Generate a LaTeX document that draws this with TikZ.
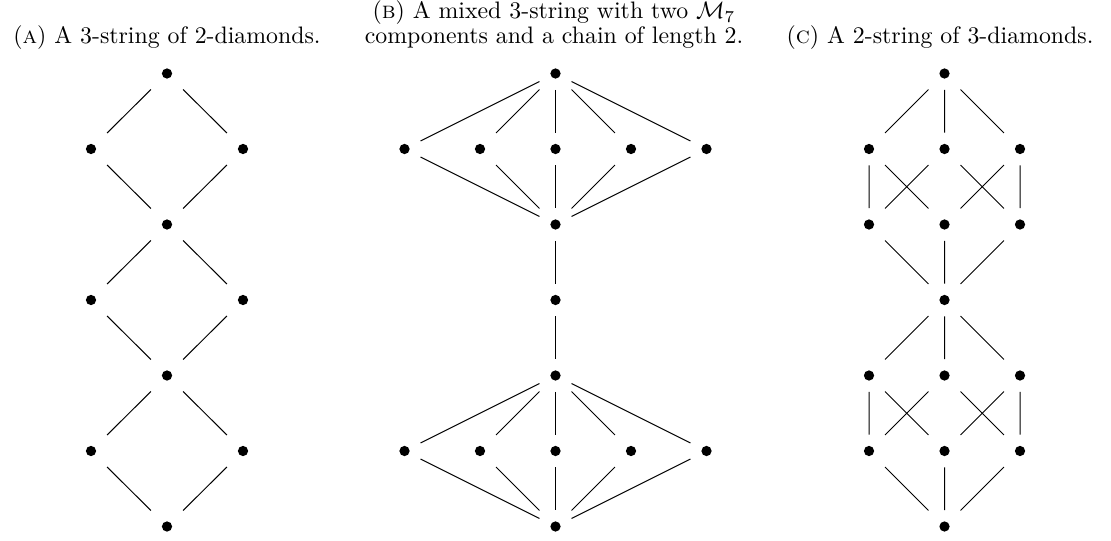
\documentclass[tikz,border=0pt]{standalone}
\begin{document}
\begin{tikzpicture}[x=0.42pt,y=-0.42pt,
  v/.style={rectangle,inner sep=0pt,minimum width=13.1pt,minimum height=13.4pt,
    path picture={\fill[black] (path picture bounding box.center) circle (2.15pt);}},
  e/.style={line width=0.42pt},
  captxt/.style={inner sep=0pt,font=\normalsize}]
\useasboundingbox (0,0) rectangle (1111,540);
% captions
\node[captxt,anchor=base] (capA) at (167,44) {(\textsc{a}) A 3-string of 2-diamonds.};
\node[captxt,anchor=base,align=center,font={\fontsize{10}{10.5}\selectfont}] (capB) at (554,44) {(\textsc{b}) A mixed 3-string with two $\mathcal{M}_7$\\components and a chain of length 2.};
\node[captxt,anchor=base] (capC) at (940,44) {(\textsc{c}) A 2-string of 3-diamonds.};
% (A)
\node[v] (a0) at (167,73.5) {};
\node[v] (a1l) at (91,149) {};
\node[v] (a1r) at (243,149) {};
\node[v] (a2) at (167,224.5) {};
\node[v] (a3l) at (91,300) {};
\node[v] (a3r) at (243,300) {};
\node[v] (a4) at (167,375.5) {};
\node[v] (a5l) at (91,451) {};
\node[v] (a5r) at (243,451) {};
\node[v] (a6) at (167,526.5) {};
\draw[e] (a0)--(a1l) (a0)--(a1r) (a1l)--(a2) (a1r)--(a2)
  (a2)--(a3l) (a2)--(a3r) (a3l)--(a4) (a3r)--(a4)
  (a4)--(a5l) (a4)--(a5r) (a5l)--(a6) (a5r)--(a6);
% (B)
\node[v] (b0) at (555.5,73.5) {};
\foreach \i/\x in {1/404.5,2/480,3/555.5,4/631,5/706.5}{
  \node[v] (bu\i) at (\x,149) {};
  \node[v] (bl\i) at (\x,451) {};
}
\node[v] (b1) at (555.5,224.5) {};
\node[v] (b2) at (555.5,300) {};
\node[v] (b3) at (555.5,375.5) {};
\node[v] (b4) at (555.5,526.5) {};
\foreach \i in {1,...,5}{
  \draw[e] (b0)--(bu\i) (bu\i)--(b1) (b3)--(bl\i) (bl\i)--(b4);
}
\draw[e] (b1)--(b2) (b2)--(b3);
% (C)
\node[v] (c0) at (944.5,73.5) {};
\node[v] (c1l) at (869,149) {};
\node[v] (c1m) at (944.5,149) {};
\node[v] (c1r) at (1020,149) {};
\node[v] (c2l) at (869,224.5) {};
\node[v] (c2m) at (944.5,224.5) {};
\node[v] (c2r) at (1020,224.5) {};
\node[v] (c3) at (944.5,300) {};
\node[v] (c4l) at (869,375.5) {};
\node[v] (c4m) at (944.5,375.5) {};
\node[v] (c4r) at (1020,375.5) {};
\node[v] (c5l) at (869,451) {};
\node[v] (c5m) at (944.5,451) {};
\node[v] (c5r) at (1020,451) {};
\node[v] (c6) at (944.5,526.5) {};
\draw[e] (c0)--(c1l) (c0)--(c1m) (c0)--(c1r)
  (c1l)--(c2l) (c1l)--(c2m) (c1m)--(c2l) (c1m)--(c2r) (c1r)--(c2m) (c1r)--(c2r)
  (c2l)--(c3) (c2m)--(c3) (c2r)--(c3)
  (c3)--(c4l) (c3)--(c4m) (c3)--(c4r)
  (c4l)--(c5l) (c4l)--(c5m) (c4m)--(c5l) (c4m)--(c5r) (c4r)--(c5m) (c4r)--(c5r)
  (c5l)--(c6) (c5m)--(c6) (c5r)--(c6);
\end{tikzpicture}
\end{document}
